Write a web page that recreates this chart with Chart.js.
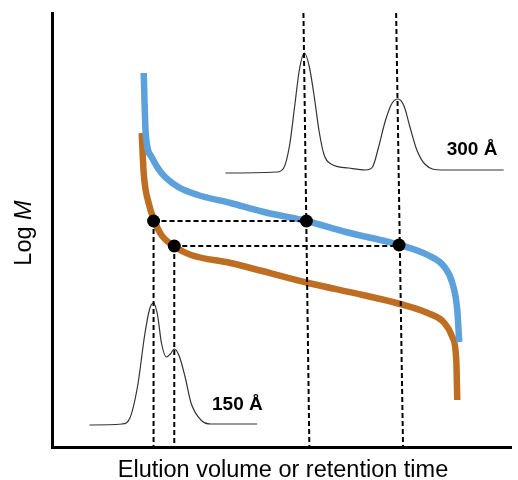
<!DOCTYPE html>
<html>
<head>
<meta charset="utf-8">
<script src="https://cdn.jsdelivr.net/npm/chart.js@4.4.0/dist/chart.umd.min.js"></script>
<style>
  body { margin: 0; background: #fff; }
  canvas { display: block; }
</style>
</head>
<body>
<canvas id="chart" width="518" height="480"></canvas>
<script>
// calibration curves (x = elution, y = log M)
const curve300 = [[93,374],[95,314],[101,290],[111,274],[128,260],[148,252],[181,244],[215,235],[258,226],[298,215],[353,202],[381,192],[398,180],[406,164],[411,137],[413,105]];
const curve150 = [[91,314],[93,274],[98,244],[104,226],[111,212],[125,200],[141,192],[181,184],[260,164],[315,152],[353,143],[381,134],[398,124],[406,110],[410,87],[411,47]];

// chromatograms
const trace300 = [[176,274],[228,275],[235,279],[241,302],[246,340],[251,378],[256,394],[261,380],[266,350],[271,315],[276,292],[283,283],[301,279],[318,277],[325,280],[331,299],[338,326],[345,344],[351,348],[357,341],[363,320],[370,297],[378,283],[395,277],[458,277]];
const trace150 = [[38,22],[71,23],[79,29],[87,62],[94,112],[99,138],[103,144],[107,132],[111,104],[116,90],[120,93],[124,98],[129,91],[135,70],[141,44],[151,27],[161,23],[208,23]];

// matching points
const dots = [[103,226],[258,226],[124,201],[352,202]];

// dashed guide lines
const guides = [
    [[103,226],[258,226]],
    [[124,201],[352,201]],
    [[103,226],[103,0]],
    [[124,201],[124,0]],
    [[255,434],[261,0]],
    [[349,434],[356,0]]
];

const labels = [
    { text: "300 Å", x: 426, y: 297 },
    { text: "150 Å", x: 188, y: 42 }
];

const xTitle = "Elution volume or retention time";

function pts(arr) {
    return arr.map(p => ({ x: p[0], y: p[1] }));
}

let datasets = [];

datasets.push({
    data: pts(dots),
    showLine: false,
    pointRadius: 6.5,
    pointBackgroundColor: '#000',
    pointBorderWidth: 0,
    order: 0
});

guides.forEach(g => {
    datasets.push({
        data: pts(g),
        showLine: true,
        borderColor: '#000',
        borderWidth: 2,
        borderDash: [5, 3],
        pointRadius: 0,
        order: 1
    });
});

datasets.push({
    data: pts(curve300),
    showLine: true,
    borderColor: 'rgb(92, 161, 220)',
    borderWidth: 6.5,
    cubicInterpolationMode: 'monotone',
    pointRadius: 0,
    order: 2
});
datasets.push({
    data: pts(curve150),
    showLine: true,
    borderColor: 'rgb(190, 110, 35)',
    borderWidth: 6.5,
    cubicInterpolationMode: 'monotone',
    pointRadius: 0,
    order: 2
});
datasets.push({
    data: pts(trace300),
    showLine: true,
    borderColor: '#333',
    borderWidth: 1.2,
    cubicInterpolationMode: 'monotone',
    pointRadius: 0,
    order: 3
});
datasets.push({
    data: pts(trace150),
    showLine: true,
    borderColor: '#333',
    borderWidth: 1.2,
    cubicInterpolationMode: 'monotone',
    pointRadius: 0,
    order: 3
});

const textPlugin = {
    id: 'texts',
    afterDraw(chart) {
        const ctx = chart.ctx;
        const xs = chart.scales.x;
        const ys = chart.scales.y;
        ctx.save();
        ctx.fillStyle = '#000';
        ctx.textAlign = 'center';
        ctx.textBaseline = 'middle';
        ctx.font = 'bold 19px "Liberation Sans", Arial, sans-serif';
        labels.forEach(l => {
            ctx.fillText(l.text, xs.getPixelForValue(l.x), ys.getPixelForValue(l.y));
        });

        ctx.textBaseline = 'alphabetic';
        ctx.font = '23.5px "Liberation Sans", Arial, sans-serif';
        ctx.fillText(xTitle, 283, 477);

        // y title with italic M
        ctx.translate(31, 233);
        ctx.rotate(-Math.PI / 2);
        ctx.textAlign = 'left';
        const part1 = 'Log ';
        ctx.font = '23.5px "Liberation Sans", Arial, sans-serif';
        const w1 = ctx.measureText(part1).width;
        ctx.font = 'italic 23.5px "Liberation Sans", Arial, sans-serif';
        const w2 = ctx.measureText('M').width;
        const start = -(w1 + w2) / 2;
        ctx.font = '23.5px "Liberation Sans", Arial, sans-serif';
        ctx.fillText(part1, start, 0);
        ctx.font = 'italic 23.5px "Liberation Sans", Arial, sans-serif';
        ctx.fillText('M', start + w1, 0);
        ctx.restore();
    }
};

const chart = new Chart('chart', {
    type: 'scatter',
    data: { datasets: datasets },
    options: {
        responsive: false,
        animation: false,
        layout: { padding: { left: 52, top: 13, right: 0, bottom: 33 } },
        plugins: {
            legend: { display: false },
            tooltip: { enabled: false }
        },
        scales: {
            x: {
                type: 'linear',
                min: 0,
                max: 466,
                ticks: { display: false },
                grid: { display: false, drawTicks: false },
                border: { display: true, color: '#000', width: 3 }
            },
            y: {
                type: 'linear',
                min: 0,
                max: 434,
                ticks: { display: false },
                grid: { display: false, drawTicks: false },
                border: { display: true, color: '#000', width: 3 }
            }
        }
    },
    plugins: [textPlugin]
});
</script>
</body>
</html>
